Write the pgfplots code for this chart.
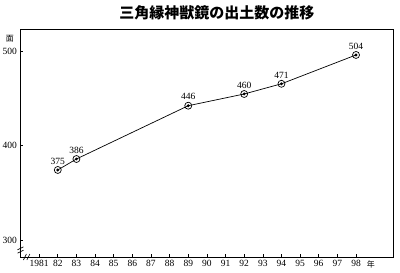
\documentclass[border=0pt]{standalone}
\usepackage{pgfplots}
\pgfplotsset{compat=1.18}
\usepackage{fontspec}
\setmainfont{Liberation Serif}
\newfontfamily\cjk{Noto Sans CJK JP}
\pgfdeclareplotmark{odot}{%
  \pgfpathcircle{\pgfpointorigin}{\pgfplotmarksize}%
  \pgfusepathqstroke
  \pgfpathcircle{\pgfpointorigin}{0.45\pgfplotmarksize}%
  \pgfusepathqfill
}
\begin{document}
\begin{tikzpicture}
\useasboundingbox (-20.5pt,-16pt) rectangle (379.5pt,257pt);
\draw[black, line width=0.8pt] (0pt,0pt) rectangle (372.8pt,227.5pt);
\node[text=black, font=\cjk\bfseries\fontsize{15}{16}\selectfont] at (196.5pt,244pt) {三角縁神獣鏡の出土数の推移};
\begin{axis}[
  at={(0,0)}, anchor=south west,
  scale only axis, width=372.8pt, height=227.5pt,
  xmin=1980, xmax=2000, ymin=282, ymax=522.75,
  xtick={1981,1982,1983,1984,1985,1986,1987,1988,1989,1990,1991,1992,1993,1994,1995,1996,1997,1998},
  xticklabels={1981,82,83,84,85,86,87,88,89,90,91,92,93,94,95,96,97,98},
  ytick={300,400,500},
  xtick pos=bottom, ytick pos=left, tick align=inside, major tick length=3pt,
  extra x ticks={1998.8},
  extra x tick labels={\cjk\fontsize{8}{8}\selectfont 年},
  extra x tick style={major tick length=0pt},
  extra y ticks={513},
  extra y tick labels={\cjk\fontsize{8}{8}\selectfont 面},
  extra y tick style={major tick length=0pt, yticklabel style={xshift=-3pt}},
  /pgf/number format/assume math mode=true,
  ticklabel style={font=\fontsize{9.5}{10}\selectfont},
  axis line style={line width=0.8pt, black},
  tick style={line width=0.6pt, black},
  clip=false,
  nodes near coords, point meta=explicit symbolic,
  every node near coord/.append style={font=\fontsize{9.5}{10}\selectfont, yshift=2pt, black},
]
\addplot[black, line width=0.7pt, mark=odot, mark size=3.5pt, mark options={line width=0.7pt}]
  coordinates {(1982,374.1) [375] (1983,385.7) [386] (1989,442.1) [446] (1992,454.5) [460] (1994,465.3) [471] (1998,495.8) [504]};
\coordinate (yb) at (axis cs:1980,289.4);
\coordinate (xb) at (axis cs:1980.33,282);
\end{axis}
\draw[black, line width=0.6pt] ([xshift=-3pt,yshift=-3.2pt]yb) -- ++(6pt,3pt);
\draw[black, line width=0.6pt] ([xshift=-3pt,yshift=0.2pt]yb) -- ++(6pt,3pt);
\draw[black, line width=0.6pt] ([xshift=-3.2pt,yshift=-3pt]xb) -- ++(3pt,6pt);
\draw[black, line width=0.6pt] ([xshift=0.2pt,yshift=-3pt]xb) -- ++(3pt,6pt);
\end{tikzpicture}
\end{document}
